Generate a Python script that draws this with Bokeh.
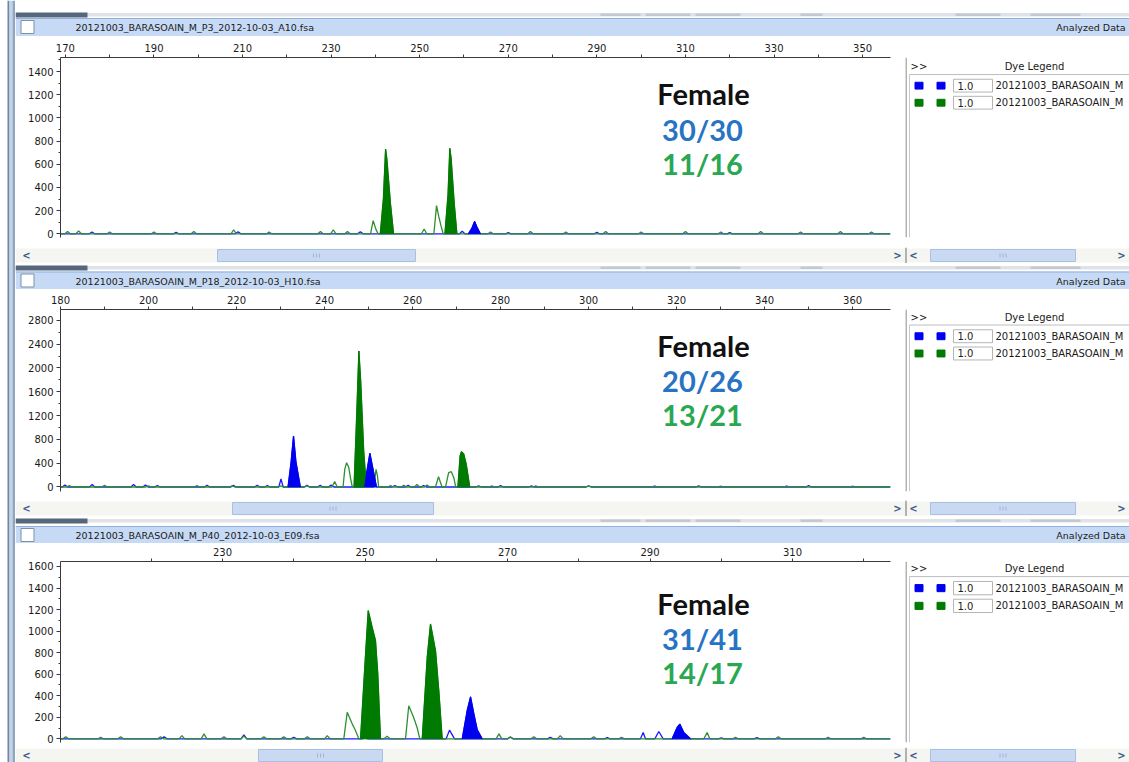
from bokeh.plotting import figure
from bokeh.layouts import row, column
from bokeh.models import Range1d, FixedTicker, Label
from bokeh.core.properties import value
from bokeh.embed import file_html
from bokeh.resources import INLINE

UI_FONT = "DejaVu Sans"
NOTE_FONT = "Lato"

# ---------------- data ----------------
file_names = ["20121003_BARASOAIN_M_P3_2012-10-03_A10.fsa",
              "20121003_BARASOAIN_M_P18_2012-10-03_H10.fsa",
              "20121003_BARASOAIN_M_P40_2012-10-03_E09.fsa"]
sex_labels = ["Female", "Female", "Female"]
blue_scores = ["30/30", "20/26", "31/41"]
green_scores = ["11/16", "13/21", "14/17"]
legend_names = ["20121003_BARASOAIN_M", "20121003_BARASOAIN_M"]
legend_scales = ["1.0", "1.0"]

# panel 1 (P3)
p1_x_ticks = [170, 190, 210, 230, 250, 270, 290, 310, 330, 350]
p1_x_minor = [180, 200, 220, 240, 260, 280, 300, 320, 340]
p1_y_ticks = [0, 200, 400, 600, 800, 1000, 1200, 1400]
p1_y_minor = [100, 300, 500, 700, 900, 1100, 1300, 1500]
p1_green_filled = [([241.1, 241.8, 242.3, 242.6, 243.4, 244.1], [0, 300, 731, 640, 260, 0]),
                   ([255.7, 256.4, 256.8, 257.1, 257.8, 258.4], [0, 340, 737, 650, 260, 0])]
p1_green_open = [([238.9, 239.5, 240.1, 240.6], [0, 113, 40, 0]),
                 ([250.4, 251.0, 251.6], [0, 41, 0]),
                 ([253.2, 253.8, 254.3, 254.8, 255.3], [0, 243, 150, 70, 0])]
p1_green_noise = [(170.5, 20), (173, 25), (180, 15), (190, 15), (199, 20), (208, 35), (216, 15),
                  (227.6, 20), (230.5, 35), (233.7, 20), (266, 15), (275, 20), (283, 15), (292, 20),
                  (300, 15), (310, 20), (318, 15), (327, 20), (336, 15), (345, 20), (352, 15)]
p1_blue_filled = [([261.0, 261.8, 262.4, 262.9, 263.7], [0, 50, 107, 60, 0])]
p1_blue_open = []
p1_blue_noise = [(176, 15), (195, 12), (209, 18), (236.6, 18), (259.6, 22), (270, 10), (290, 12), (320, 10)]

# panel 2 (P18)
p2_x_ticks = [180, 200, 220, 240, 260, 280, 300, 320, 340, 360]
p2_x_minor = [190, 210, 230, 250, 270, 290, 310, 330, 350]
p2_y_ticks = [0, 400, 800, 1200, 1600, 2000, 2400, 2800]
p2_y_minor = [200, 600, 1000, 1400, 1800, 2200, 2600]
p2_blue_filled = [([231.7, 232.4, 232.95, 233.5, 234.5], [0, 420, 857, 420, 0]),
                  ([249.1, 249.7, 250.3, 250.8, 251.8], [0, 300, 566, 380, 0])]
p2_blue_open = [([229.6, 230.1, 230.6], [0, 134, 0])]
p2_blue_noise = [(181, 35), (187.2, 40), (196.6, 40), (199.3, 35), (202, 25), (213.3, 30), (219.3, 30),
                 (224.7, 30), (227, 25), (236, 30), (239, 30), (241.5, 35), (256, 25), (259, 30),
                 (262.5, 25), (275, 20), (280, 25), (287, 20), (300, 20), (325, 20), (350, 25)]
p2_green_filled = [([246.7, 247.3, 247.8, 248.2, 248.9, 249.5], [0, 1200, 2285, 1800, 600, 0]),
                   ([270.3, 270.8, 271.1, 271.6, 272.2, 273.0], [0, 520, 593, 560, 380, 0])]
p2_green_open = [([244.2, 244.6, 245.0, 245.5, 245.9, 246.3], [0, 300, 408, 330, 150, 0]),
                 ([251.2, 251.7, 252.0, 252.3], [0, 297, 200, 0]),
                 ([265.2, 265.9, 266.7], [0, 173, 0]),
                 ([267.5, 268.2, 268.8, 269.4, 269.8], [0, 240, 257, 150, 0])]
p2_green_noise = [(182, 25), (190, 30), (200, 20), (211, 25), (219, 20), (230, 20), (236, 20), (242.3, 90),
                  (255, 25), (258, 30), (261, 40), (263.3, 35), (278, 20), (288, 20), (300, 15),
                  (315, 20), (330, 15), (345, 20), (360, 15)]

# panel 3 (P40)
p3_x_ticks = [230, 250, 270, 290, 310]
p3_x_minor = [220, 240, 260, 280, 300, 320]
p3_y_ticks = [0, 200, 400, 600, 800, 1000, 1200, 1400, 1600]
p3_y_minor = [100, 300, 500, 700, 900, 1100, 1300, 1500]
p3_green_filled = [([249.37, 250.07, 250.45, 251.0, 251.47, 251.79, 252.17], [0, 780, 1190, 1036, 913, 603, 0]),
                   ([258.03, 258.73, 259.19, 259.9, 260.36, 260.83], [0, 758, 1066, 814, 443, 0])]
p3_green_open = [([247.02, 247.5, 248.2, 248.66, 249.13], [0, 247, 139, 77, 0]),
                 ([255.68, 256.14, 256.84, 257.32, 257.69], [0, 307, 196, 103, 0]),
                 ([297.55, 298.02, 298.39], [0, 59, 0])]
p3_green_noise = [(208, 20), (212.9, 15), (215.7, 20), (221.3, 20), (224.3, 30), (227.4, 46), (230.2, 20),
                  (233, 25), (235.8, 20), (238.6, 20), (241.9, 20), (244.7, 30), (253.1, 25), (268.8, 46),
                  (270.4, 20), (273.7, 20), (277.4, 30), (282.1, 20), (286, 15), (302, 15), (308, 20),
                  (315, 15), (320, 15)]
p3_blue_filled = [([263.64, 264.34, 264.81, 265.27, 265.75, 266.45], [0, 263, 390, 234, 84, 0]),
                  ([293.1, 293.82, 294.18, 294.74, 295.68], [0, 108, 137, 59, 0])]
p3_blue_open = [([261.39, 261.86, 262.56], [0, 81, 0]),
                ([288.66, 289.04, 289.36], [0, 59, 0]),
                ([290.67, 291.23, 291.85], [0, 68, 0])]
p3_blue_noise = [(221.8, 20), (233, 37), (240, 15), (250, 10), (270.4, 15), (276, 15), (284, 12),
                 (300, 10), (305, 12)]

# ---------------- styling ----------------
BLUE_LINE = "#1a1aff"
GREEN_LINE = "#2f8f2f"
BLUE_FILL = "#0000f0"
GREEN_FILL = "#007a00"
NOTE_BLUE = "#2873c2"
NOTE_GREEN = "#2aa753"
HEADER_BG = "#c7daf5"
X_LEFT, X_RIGHT = 15, 1129


def blank(width, height, xr, yr):
    p = figure(width=width, height=height, x_range=Range1d(*xr), y_range=Range1d(*yr),
               x_axis_location=None, y_axis_location=None, toolbar_location=None,
               output_backend="svg", min_border=0, outline_line_color=None,
               background_fill_color="white", border_fill_color="white")
    p.grid.visible = False
    return p


def txt(p, x, y, s, size="10px", align="left", color="#1a1a1a", style="normal", font=UI_FONT):
    p.text(x=[x], y=[y], text=[s], text_font=value(font), text_font_size=value(size),
           text_align=align, text_baseline="middle", text_color=color, text_font_style=style)


def top_chrome(y_top, y_bot, sep_top, header_top, fname):
    p = blank(X_RIGHT - X_LEFT, y_bot - y_top, (X_LEFT, X_RIGHT), (y_bot, y_top))
    p.quad(left=[X_LEFT], right=[X_RIGHT], top=[sep_top + 0.5], bottom=[sep_top + 4], fill_color="#dfe3e8", line_color=None)
    p.quad(left=[X_LEFT], right=[87], top=[sep_top], bottom=[sep_top + 5], fill_color="#56677c", line_color=None)
    for l, r in [(600, 640), (645, 690), (695, 740), (800, 822), (955, 1000), (1030, 1080)]:
        p.quad(left=[l], right=[r], top=[sep_top + 1], bottom=[sep_top + 3.5], fill_color="#c4c9d0", line_color=None)
    p.quad(left=[X_LEFT], right=[X_RIGHT], top=[header_top], bottom=[y_bot], fill_color=HEADER_BG, line_color=None)
    p.segment(x0=[X_LEFT], y0=[header_top + 0.5], x1=[X_RIGHT], y1=[header_top + 0.5], line_color="#90b0dc", line_width=1)
    p.quad(left=[20.5], right=[33.5], top=[header_top + 2.5], bottom=[header_top + 15.5],
           fill_color="white", line_color="#7d90aa", line_width=1)
    mid = (header_top + y_bot) / 2 + 0.5
    txt(p, 75, mid, fname, size="9.5px")
    txt(p, 1125, mid, "Analyzed Data", size="9.5px", align="right")
    return p


def scroll_bar(y_top, y_bot, thumb):
    p = blank(X_RIGHT - X_LEFT, y_bot - y_top, (X_LEFT, X_RIGHT), (y_bot, y_top))
    t, b = y_top + 1, y_top + 15
    p.quad(left=[X_LEFT, 906], right=[905, X_RIGHT], top=[t, t], bottom=[b, b], fill_color="#f5f5f1", line_color=None)
    p.quad(left=[thumb[0], 930], right=[thumb[1], 1075], top=[t + 1, t + 1], bottom=[b - 1, b - 1],
           fill_color="#c9d9f2", line_color="#a9c0e6", line_width=1)
    for c in [(thumb[0] + thumb[1]) / 2, 1002.5]:
        p.segment(x0=[c - 3, c, c + 3], y0=[t + 5] * 3, x1=[c - 3, c, c + 3], y1=[b - 5] * 3,
                  line_color="#9fb4da", line_width=1)
    mid = min((t + b) / 2, y_bot - 7)
    for x, s in [(26, "<"), (897, ">"), (913, "<"), (1121, ">")]:
        txt(p, x, mid, s, size="10px", align="center", color="#3b5b8e", style="bold")
    p.segment(x0=[905.5], y0=[y_top], x1=[905.5], y1=[y_bot], line_color="#9a9a9a", line_width=1.5)
    return p


def legend_panel(y_top, y_bot, text_y):
    p = blank(X_RIGHT - 905, y_bot - y_top, (905, X_RIGHT), (y_bot, y_top))
    p.segment(x0=[905.5], y0=[y_top], x1=[905.5], y1=[y_bot], line_color="#9a9a9a", line_width=1.5)
    p.segment(x0=[909], y0=[text_y + 9], x1=[X_RIGHT], y1=[text_y + 9], line_color="#bdbdbd", line_width=1)
    p.segment(x0=[909], y0=[text_y + 9], x1=[909], y1=[y_bot], line_color="#c8c8c8", line_width=1)
    txt(p, 910, text_y, ">>")
    txt(p, 1034, text_y, "Dye Legend", align="center")
    colors = [BLUE_FILL, GREEN_FILL]
    for i, c in enumerate(colors):
        yc = text_y + 22 + 20 * i
        p.rect(x=[918.5, 940.5], y=[yc, yc], width=8, height=8, fill_color=c, line_color=c)
        p.quad(left=[953], right=[992], top=[yc - 7.5], bottom=[yc + 7.5], fill_color="white",
               line_color="#b5b5b5", line_width=1)
        txt(p, 957, yc, legend_scales[i])
        txt(p, 995, yc, legend_names[i])
    return p


def peak_trace(xr, filled, opened, noise, hw):
    peaks = [(list(xs), list(ys)) for xs, ys in filled] + [(list(xs), list(ys)) for xs, ys in opened]
    peaks += [([c - hw, c, c + hw], [0, h, 0]) for c, h in noise]
    peaks.sort(key=lambda k: k[0][0])
    X, Y = [xr[0]], [0]
    for xs, ys in peaks:
        X += xs
        Y += ys
    X.append(xr[1])
    Y.append(0)
    return X, Y


def trace_plot(height, top_b, bot_b, xr, yr, xt, xm, yt, ym, blue, green, hw, frame, notes):
    p = figure(width=905 - X_LEFT, height=height, x_range=Range1d(*xr), y_range=Range1d(*yr),
               x_axis_location="above", y_axis_location="left", toolbar_location=None,
               output_backend="svg", min_border_left=45, min_border_right=15,
               min_border_top=top_b, min_border_bottom=bot_b, outline_line_color=None,
               background_fill_color="white", border_fill_color="white")
    p.grid.visible = False
    xa, ya = p.xaxis[0], p.yaxis[0]
    xa.ticker = FixedTicker(ticks=xt, minor_ticks=xm)
    ya.ticker = FixedTicker(ticks=yt, minor_ticks=ym)
    for a in (xa, ya):
        a.major_label_text_font = UI_FONT
        a.major_label_text_font_size = "10px"
        a.major_label_text_color = "#1a1a1a"
        a.axis_line_color = "#3a3a3a"
        a.major_tick_line_color = "#3a3a3a"
        a.minor_tick_line_color = "#3a3a3a"
        a.major_tick_in = 0
        a.minor_tick_in = 0
    xa.major_tick_out = 3
    xa.minor_tick_out = 3
    xa.major_label_standoff = 3
    ya.major_tick_out = 4
    ya.minor_tick_out = 2
    ya.major_label_standoff = 3

    for (filled, opened, noise), lc in [(blue, BLUE_LINE), (green, GREEN_LINE)]:
        X, Y = peak_trace(xr, filled, opened, noise, hw)
        p.line(X, Y, line_color=lc, line_width=1.3)
    for (filled, _, _), fc in [(green, GREEN_FILL), (blue, BLUE_FILL)]:
        if filled:
            p.patches([list(xs) for xs, _ in filled], [list(ys) for _, ys in filled],
                      fill_color=fc, line_color=fc, line_width=1)

    left, right, top, bottom = frame

    def to_data(rx, ry):
        x = xr[0] + (rx - left) / (right - left) * (xr[1] - xr[0])
        y = yr[1] - (ry - top) / (bottom - top) * (yr[1] - yr[0])
        return x, y

    for (rx, ry), s, col in notes:
        x, y = to_data(rx, ry)
        p.add_layout(Label(x=x, y=y, text=s, text_font=NOTE_FONT, text_font_style="bold",
                           text_font_size="29px", text_align="center", text_baseline="alphabetic",
                           text_color=col))
    return p


def notes_for(i, ys):
    return [((703, ys[0]), sex_labels[i], "#111111"),
            ((702, ys[1]), blue_scores[i], NOTE_BLUE),
            ((702, ys[2]), green_scores[i], NOTE_GREEN)]


# left window frame strip
strip = blank(X_LEFT, 762, (0, X_LEFT), (762, 0))
strip.quad(left=[7, 9, 12, 14.5], right=[9, 12, 14.5, 15], top=[0] * 4, bottom=[762] * 4,
           fill_color=["#6f86a8", "#c5d2e4", "#8ea5c4", "#dfe6ef"], line_color=None)

# panel 1
c1 = top_chrome(0, 36, 12, 17.5, file_names[0])
pl1 = trace_plot(211, 21, 10, (168.9, 356.3), (-32, 1521), p1_x_ticks, p1_x_minor, p1_y_ticks, p1_y_minor,
                 (p1_blue_filled, p1_blue_open, p1_blue_noise),
                 (p1_green_filled, p1_green_open, p1_green_noise), 0.6,
                 (60, 890, 57, 237), notes_for(0, [93, 129, 163]))
lg1 = legend_panel(36, 247, 47)
s1 = scroll_bar(247, 263, (217, 415))

# panel 2
c2 = top_chrome(263, 289, 265, 271, file_names[1])
pl2 = trace_plot(211, 20, 9, (180, 368.6), (-76, 2982), p2_x_ticks, p2_x_minor, p2_y_ticks, p2_y_minor,
                 (p2_blue_filled, p2_blue_open, p2_blue_noise),
                 (p2_green_filled, p2_green_open, p2_green_noise), 0.6,
                 (60, 890, 309, 491), notes_for(1, [345, 380, 414]))
lg2 = legend_panel(289, 500, 298)
s2 = scroll_bar(500, 516, (232, 433))

# panel 3
c3 = top_chrome(516, 543, 518, 525.5, file_names[2])
pl3 = trace_plot(204, 18, 5, (207.26, 323.75), (-34, 1646), p3_x_ticks, p3_x_minor, p3_y_ticks, p3_y_minor,
                 (p3_blue_filled, p3_blue_open, p3_blue_noise),
                 (p3_green_filled, p3_green_open, p3_green_noise), 0.4,
                 (60, 890, 561, 742), notes_for(2, [603, 638, 672]))
lg3 = legend_panel(543, 747, 551)
s3 = scroll_bar(747, 762, (258, 382))

main = column(c1, row(pl1, lg1), s1, c2, row(pl2, lg2), s2, c3, row(pl3, lg3), s3)
layout = row(strip, main)

open("out.html", "w").write(file_html(layout, INLINE))
